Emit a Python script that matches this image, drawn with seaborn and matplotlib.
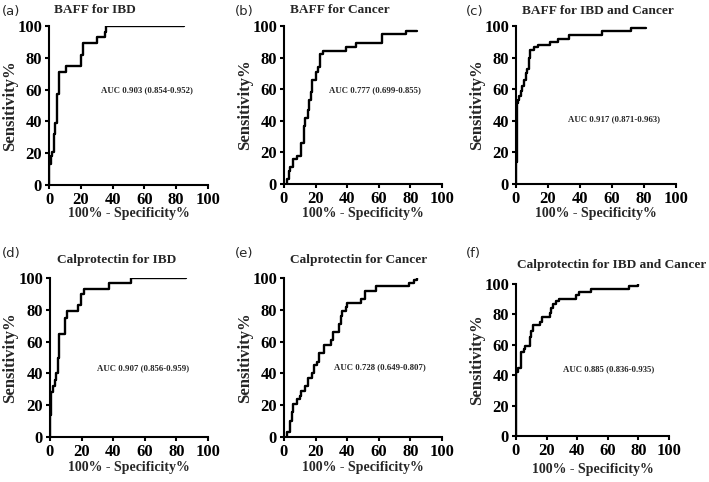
import matplotlib
matplotlib.use("Agg")
import matplotlib.pyplot as plt
import pandas as pd
import seaborn as sns

# ROC curve vertices (100% - specificity, sensitivity)
baff_ibd_x = [0, 0, 1, 1, 2, 2, 3, 3, 4, 4, 5, 5, 6, 6, 11, 11, 20, 20, 21.5, 21.5, 30, 30, 35, 35, 36, 36, 85]
baff_ibd_y = [0, 13, 13, 18, 18, 21, 21, 32, 32, 39, 39, 57, 57, 71, 71, 75, 75, 82, 82, 89, 89, 93, 93, 96, 96, 100, 100]

baff_cancer_x = [2, 2, 3, 3, 4, 4, 6, 6, 8, 8, 10.5, 10.5, 12.5, 12.5, 13, 13, 15, 15, 16, 16, 17, 17,
                 17.5, 17.5, 18, 18, 20.5, 20.5, 21.5, 21.5, 22.5, 22.5, 24.5, 24.5, 39.5, 39.5, 45.5, 45.5,
                 62, 62, 77, 77, 84]
baff_cancer_y = [0, 3, 3, 8, 8, 11, 11, 16, 16, 18, 18, 26, 26, 37, 37, 42, 42, 47, 47, 53, 53, 58,
                 58, 63, 63, 66, 66, 71, 71, 74, 74, 82, 82, 84, 84, 87, 87, 89,
                 89, 95, 95, 97, 97]

baff_both_x = [0, 0, 0.5, 0.5, 1, 1, 2, 2, 3, 3, 4, 4, 5, 5, 6, 6, 7, 7, 8, 8, 8.5, 8.5, 11, 11, 14, 14,
               21, 21, 26, 26, 33, 33, 54, 54, 72, 72, 81]
baff_both_y = [0, 14, 14, 51, 51, 53, 53, 56, 56, 59, 59, 62, 62, 66, 66, 70, 70, 73, 73, 80, 80, 85, 85, 87, 87, 88,
               88, 90, 90, 92, 92, 94, 94, 97, 97, 98.5, 98.5]

calp_ibd_x = [0, 0, 0.5, 0.5, 2, 2, 3, 3, 3.5, 3.5, 5, 5, 5.5, 5.5, 6, 6, 9.5, 9.5, 10.5, 10.5, 18, 18,
              19.5, 19.5, 21.5, 21.5, 37.5, 37.5, 51.5, 51.5, 86]
calp_ibd_y = [0, 14, 14, 28, 28, 32, 32, 36, 36, 40, 40, 50, 50, 58, 58, 65, 65, 75, 75, 79, 79, 83,
              83, 90, 90, 93, 93, 97, 97, 100, 100]

calp_cancer_x = [2, 2, 4, 4, 5, 5, 6, 6, 8, 8, 10, 10, 11, 11, 13, 13, 15, 15, 18, 18, 19, 19, 21, 21,
                 22, 22, 25, 25, 30, 30, 31, 31, 35, 35, 36, 36, 37, 37, 39, 39, 40, 40, 49, 49, 51, 51,
                 58, 58, 79, 79, 82, 82, 84, 84]
calp_cancer_y = [0, 3, 3, 10, 10, 16, 16, 21, 21, 24, 24, 26, 26, 29, 29, 32, 32, 37, 37, 40, 40, 45, 45, 47,
                 47, 53, 53, 58, 58, 61, 61, 66, 66, 71, 71, 76, 76, 79, 79, 82, 82, 84, 84, 87, 87, 92,
                 92, 95, 95, 97, 97, 99, 99, 100]

calp_both_x = [0, 0, 1, 1, 3, 3, 5, 5, 6, 6, 9, 9, 10, 10, 11, 11, 16, 16, 17, 17, 22, 22, 23, 23,
               24, 24, 26, 26, 28, 28, 39, 39, 41, 41, 49, 49, 74, 74, 77, 77, 80, 80]
calp_both_y = [0, 42, 42, 45, 45, 55, 55, 57, 57, 59, 59, 65, 65, 69, 69, 73, 73, 75, 75, 78, 78, 81, 81, 84,
               84, 87, 87, 89, 89, 90, 90, 93, 93, 95, 95, 97, 97, 98.5, 98.5, 99, 99, 100]

titles = ["BAFF for IBD", "BAFF for Cancer", "BAFF for IBD and Cancer",
          "Calprotectin for IBD", "Calprotectin for Cancer", "Calprotectin for IBD and Cancer"]
auc_labels = ["AUC 0.903 (0.854-0.952)", "AUC 0.777 (0.699-0.855)", "AUC 0.917 (0.871-0.963)",
              "AUC 0.907 (0.856-0.959)", "AUC 0.728 (0.649-0.807)", "AUC 0.885 (0.836-0.935)"]
panel_tags = ["(a)", "(b)", "(c)", "(d)", "(e)", "(f)"]
curves = [(baff_ibd_x, baff_ibd_y), (baff_cancer_x, baff_cancer_y), (baff_both_x, baff_both_y),
          (calp_ibd_x, calp_ibd_y), (calp_cancer_x, calp_cancer_y), (calp_both_x, calp_both_y)]
ticks = [0, 20, 40, 60, 80, 100]

sns.set_style("ticks")
plt.rcParams['font.family'] = ['Liberation Serif', 'DejaVu Serif']

W, H = 709, 482
fig = plt.figure(figsize=(W / 100, H / 100), dpi=100)

# layout in pixels: axes (left, top, right, bottom), title centre, AUC centre, tag x, xlabel y
boxes = [(49, 26, 208, 185), (284, 26, 442, 184), (516, 26, 676, 184),
         (50, 278, 208, 437), (284, 278, 442, 437), (516, 284, 669, 436)]
title_pos = [(95, 10), (340, 10), (598, 11), (117, 260), (359, 260), (612, 265)]
auc_pos = [(147, 90), (375, 90), (614, 119), (143, 368), (380, 367), (609, 369)]
tag_pos = [(2, 12), (235, 12), (466, 12), (2, 253), (235, 253), (466, 253)]
ylab_x = [10, 245, 477, 10, 245, 477]
xlab_y = [213, 213, 213, 467, 467, 470]


def fx(px):
    return px / W


def fy(py):
    return 1 - py / H


for i in range(6):
    l, t, r, b = boxes[i]
    ax = fig.add_axes([fx(l), fy(b), (r - l) / W, (b - t) / H])
    df = pd.DataFrame({"fpr": curves[i][0], "sens": curves[i][1]})
    sns.lineplot(data=df, x="fpr", y="sens", sort=False, estimator=None,
                 color="black", linewidth=1.7, ax=ax)
    ax.set_xlim(0, 100)
    ax.set_ylim(0, 100)
    ax.set_xticks(ticks)
    ax.set_yticks(ticks)
    ax.set_xlabel("")
    ax.set_ylabel("")
    sns.despine(ax=ax)
    for s in ["left", "bottom"]:
        ax.spines[s].set_linewidth(1.5)
        ax.spines[s].set_color("black")
    ax.tick_params(length=3, width=1.5, colors="black", pad=2, labelsize=12)
    for lab in ax.get_xticklabels() + ax.get_yticklabels():
        lab.set_fontweight("bold")
    # title, labels and annotations placed like the original figure
    fig.text(fx(title_pos[i][0]), fy(title_pos[i][1]), titles[i], ha="center", va="center",
             fontsize=9.6, fontweight="bold")
    fig.text(fx(auc_pos[i][0]), fy(auc_pos[i][1]), auc_labels[i], ha="center", va="center",
             fontsize=6.3, fontweight="bold")
    fig.text(fx(tag_pos[i][0]), fy(tag_pos[i][1]), panel_tags[i], ha="left", va="center",
             fontsize=9.5, family=["DejaVu Sans"])
    fig.text(fx(ylab_x[i]), fy((t + b) / 2), "Sensitivity%", rotation=90, ha="center", va="center",
             fontsize=12, fontweight="bold")
    fig.text(fx((l + r) / 2), fy(xlab_y[i]), "100% - Specificity%", ha="center", va="center",
             fontsize=10, fontweight="bold")

fig.savefig("out.png", dpi=100)
